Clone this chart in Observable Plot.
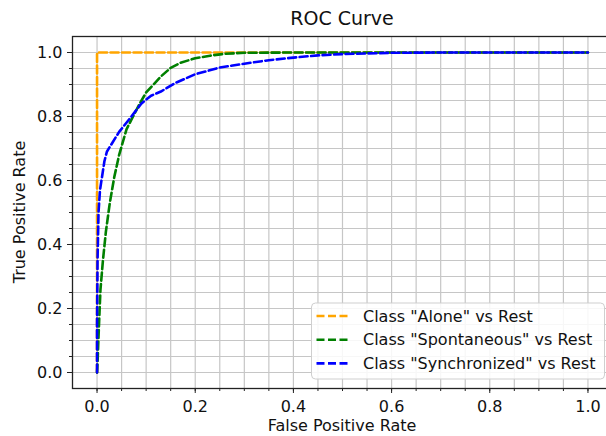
<!DOCTYPE html>
<html>
<head>
<meta charset="utf-8">
<script src="https://cdn.jsdelivr.net/npm/d3@7"></script>
<script src="https://cdn.jsdelivr.net/npm/@observablehq/plot@0.6"></script>
<style>
  html, body { margin: 0; padding: 0; background: #fff; }
  svg { font-family: "DejaVu Sans", sans-serif; }
</style>
</head>
<body>
<div id="chart"></div>
<script>
const title = "ROC Curve";
const xLabel = "False Positive Rate";
const yLabel = "True Positive Rate";
const classes = ['Class "Alone" vs Rest', 'Class "Spontaneous" vs Rest', 'Class "Synchronized" vs Rest'];
const colors = ["#FFA500", "#008000", "#0000FF"];

const fprAlone = [0, 0, 1];
const tprAlone = [0, 1, 1];

const fprSpont = [0, 0.001, 0.004, 0.007, 0.012, 0.018, 0.026, 0.035, 0.045, 0.06, 0.07, 0.085, 0.1, 0.115, 0.13, 0.15, 0.17, 0.2, 0.23, 0.26, 0.3, 0.4, 1];
const tprSpont = [0, 0.03, 0.15, 0.26, 0.35, 0.44, 0.53, 0.61, 0.68, 0.76, 0.79, 0.835, 0.875, 0.9, 0.925, 0.952, 0.968, 0.982, 0.99, 0.996, 0.999, 1, 1];

const fprSync = [0, 0, 0.001, 0.003, 0.006, 0.01, 0.015, 0.02, 0.03, 0.045, 0.07, 0.09, 0.11, 0.13, 0.16, 0.2, 0.25, 0.3, 0.35, 0.4, 0.45, 0.5, 0.6, 0.7, 1];
const tprSync = [0, 0.15, 0.35, 0.5, 0.57, 0.61, 0.66, 0.69, 0.715, 0.752, 0.8, 0.84, 0.865, 0.878, 0.905, 0.932, 0.953, 0.965, 0.976, 0.984, 0.991, 0.995, 0.999, 1, 1];

const majorTicks = [0, 0.2, 0.4, 0.6, 0.8, 1.0];
const minorTicks = [0, 0.05, 0.1, 0.15, 0.2, 0.25, 0.3, 0.35, 0.4, 0.45, 0.5, 0.55, 0.6, 0.65, 0.7, 0.75, 0.8, 0.85, 0.9, 0.95, 1.0];

const series = [[fprAlone, tprAlone], [fprSpont, tprSpont], [fprSync, tprSync]];
const rows = series.flatMap(([fx, ty], i) => fx.map((x, j) => ({cls: classes[i], fpr: x, tpr: ty[j]})));

const W = 606, H = 436;
const mL = 72, mT = 36, mB = 48, mR = -6;

const plot = Plot.plot({
  width: W,
  height: H,
  marginLeft: mL,
  marginTop: mT,
  marginBottom: mB,
  marginRight: mR,
  style: {fontFamily: "DejaVu Sans, sans-serif", background: "white", overflow: "hidden"},
  x: {domain: [-0.05, 1.05]},
  y: {domain: [-0.05, 1.05]},
  color: {domain: classes, range: colors},
  marks: [
    Plot.gridX(minorTicks, {stroke: "#c6c6c6", strokeOpacity: 1, strokeWidth: 1.2}),
    Plot.gridY(minorTicks, {stroke: "#c6c6c6", strokeOpacity: 1, strokeWidth: 1.2}),
    Plot.line(rows, {x: "fpr", y: "tpr", z: "cls", stroke: "cls", strokeWidth: 2.6, strokeDasharray: "8,3.5"}),
    Plot.frame({stroke: "#222", strokeWidth: 1.3}),
    Plot.axisX(minorTicks, {tickSize: 3, text: null, label: null, stroke: "#222"}),
    Plot.axisX(majorTicks, {tickSize: 5, tickPadding: 7, tickFormat: d3.format(".1f"), fontSize: 16, label: null, stroke: "#222", fill: "#111"}),
    Plot.axisY(minorTicks, {tickSize: 3, text: null, label: null, stroke: "#222"}),
    Plot.axisY(majorTicks, {tickSize: 5, tickPadding: 5, tickFormat: d3.format(".1f"), fontSize: 16, label: null, stroke: "#222", fill: "#111"})
  ]
});

const svg = d3.select(plot);
const cx = (mL + (W - mR)) / 2;
svg.append("text").attr("x", cx).attr("y", 25).attr("text-anchor", "middle")
  .attr("font-size", 19).attr("fill", "#111").text(title);
svg.append("text").attr("x", cx).attr("y", 431).attr("text-anchor", "middle")
  .attr("font-size", 16).attr("fill", "#111").text(xLabel);
svg.append("text").attr("transform", "translate(25,212) rotate(-90)").attr("text-anchor", "middle")
  .attr("font-size", 16).attr("fill", "#111").text(yLabel);

const lg = svg.append("g");
lg.append("rect").attr("x", 311.5).attr("y", 303).attr("width", 293).attr("height", 76).attr("rx", 4)
  .attr("fill", "white").attr("fill-opacity", 0.85).attr("stroke", "#cfcfcf");
classes.forEach((c, i) => {
  const y = 316 + i * 23.7;
  lg.append("line").attr("x1", 316.5).attr("x2", 350).attr("y1", y).attr("y2", y)
    .attr("stroke", colors[i]).attr("stroke-width", 2.6).attr("stroke-dasharray", "8,3.5");
  lg.append("text").attr("x", 363).attr("y", y).attr("dy", "0.36em").attr("font-size", 16)
    .attr("text-anchor", "start").attr("fill", "#111").text(c);
});

document.getElementById("chart").appendChild(plot);
</script>
</body>
</html>
